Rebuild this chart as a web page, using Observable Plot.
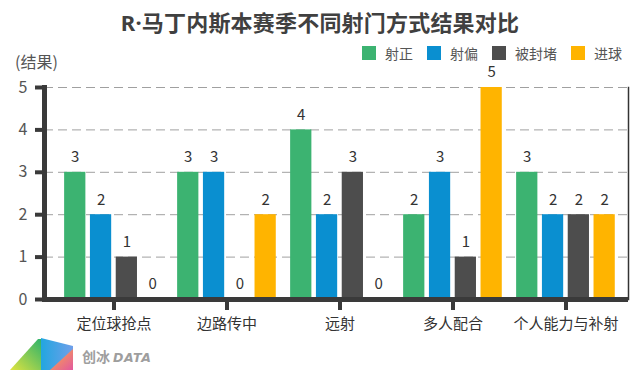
<!DOCTYPE html>
<html><head><meta charset="utf-8">
<script src="https://cdn.jsdelivr.net/npm/d3@7"></script>
<script src="https://cdn.jsdelivr.net/npm/@observablehq/plot@0.6"></script>
<style>
html,body{margin:0;padding:0;background:#fff;}
body{width:640px;height:375px;position:relative;overflow:hidden;font-family:"Noto Sans CJK SC","Noto Sans",sans-serif;}
#title{position:absolute;left:0;width:640px;top:5px;text-align:center;font-size:22px;font-weight:bold;color:#404040;letter-spacing:0.2px;}
#title .lat{font-family:"Noto Sans",sans-serif;}
#unit{position:absolute;left:15px;top:49px;font-size:16px;color:#555;}
#legend{position:absolute;top:43px;left:362px;display:flex;font-size:14px;color:#555;}
#legend .it{display:flex;align-items:center;margin-right:14px;}
#legend .sw{width:14px;height:14px;margin-right:9px;}
#chart{position:absolute;left:0;top:0;}
#logo{position:absolute;left:0;top:330px;}
</style></head>
<body>
<div id="chart"></div>
<div id="title"><span class="lat">R·</span>马丁内斯本赛季不同射门方式结果对比</div>
<div id="unit">(结果)</div>
<div id="legend"></div>
<svg id="logo" width="180" height="45">
  <defs>
    <linearGradient id="g1" x1="0" y1="1" x2="1" y2="0"><stop offset="0" stop-color="#dfe340"/><stop offset="1" stop-color="#2fb36a"/></linearGradient>
    <linearGradient id="g2" x1="0" y1="0" x2="1" y2="0"><stop offset="0" stop-color="#22a6e0"/><stop offset="1" stop-color="#6f9fea"/></linearGradient>
    <linearGradient id="g3" x1="0" y1="0" x2="1" y2="1"><stop offset="0" stop-color="#fbb040"/><stop offset="1" stop-color="#e2589f"/></linearGradient>
  </defs>
  <polygon points="10,40 38,9 41,9 41,40" fill="url(#g1)"/>
  <polygon points="41,8 73,16 73,20 52,40 41,40" fill="url(#g2)"/>
  <polygon points="50,40 73,19 73,40" fill="url(#g3)"/>
  <text x="82" y="32" font-size="14" font-weight="bold" fill="#9e9e9e" font-family="Noto Sans CJK SC">创冰</text>
  <text x="113" y="32" font-size="12.5" font-weight="bold" font-style="italic" fill="#9e9e9e" font-family="DejaVu Sans" letter-spacing="0.6">DATA</text>
</svg>
<script>
const categories = ["定位球抢点","边路传中","远射","多人配合","个人能力与补射"];
const series = ["射正","射偏","被封堵","进球"];
const shotOnTarget = [3,3,4,2,3];
const shotOffTarget = [2,3,2,3,2];
const blocked = [1,0,3,1,2];
const goals = [0,2,0,5,2];
const yTicks = [0,1,2,3,4,5];
const colors = ["#3cb371","#0a8fd0","#4d4d4d","#ffb400"];

const seriesValues = [shotOnTarget, shotOffTarget, blocked, goals];
const rows = [];
series.forEach((s, i) => categories.forEach((c, j) => rows.push({category: c, series: s, idx: i, value: seriesValues[i][j]})));

// legend
const leg = document.getElementById("legend");
series.forEach((s, i) => {
  const it = document.createElement("div"); it.className = "it";
  it.innerHTML = `<span class="sw" style="background:${colors[i]}"></span><span>${s}</span>`;
  leg.appendChild(it);
});

const band = 113.25, group = 99, step = 25.8, bw = 21.5;
const off = (band - group) / 2;
const marks = [
  Plot.gridY(yTicks.slice(1), {stroke: "#a0a0a0", strokeOpacity: 1, strokeDasharray: "9,5"})
];
series.forEach((s, i) => {
  const data = rows.filter(r => r.idx === i);
  const l = off + i * step;
  marks.push(Plot.barY(data, {x: "category", y: "value", fill: colors[i], insetLeft: l, insetRight: band - l - bw}));
  marks.push(Plot.text(data, {x: "category", y: "value", text: d => String(d.value), dx: l + bw / 2 - band / 2, dy: -15, fontSize: 15, fill: "#333"}));
});
marks.push(
  Plot.frame({anchor: "right", stroke: "#333", strokeWidth: 1.5}),
  Plot.frame({anchor: "left", stroke: "#3a3a3a", strokeWidth: 5}),
  Plot.ruleY([0], {stroke: "#3a3a3a", strokeWidth: 5}),
  Plot.axisY({ticks: yTicks, tickFormat: d => String(d), tickSize: 9, strokeWidth: 4, stroke: "#3a3a3a", fill: "#555", fontSize: 16, tickPadding: 8, label: null}),
  Plot.axisX({tickSize: 11, strokeWidth: 4, stroke: "#3a3a3a", fill: "#333", fontSize: 15, tickPadding: 8, label: null})
);

const chart = Plot.plot({
  width: 640, height: 375,
  marginLeft: 44, marginRight: 12, marginTop: 87, marginBottom: 76,
  style: {fontFamily: "'Noto Sans CJK SC', sans-serif", background: "transparent"},
  x: {type: "band", domain: categories, range: [56.4, 622.6], padding: 0},
  y: {domain: [0, 5]},
  marks
});
document.getElementById("chart").appendChild(chart);
</script>
</body></html>
